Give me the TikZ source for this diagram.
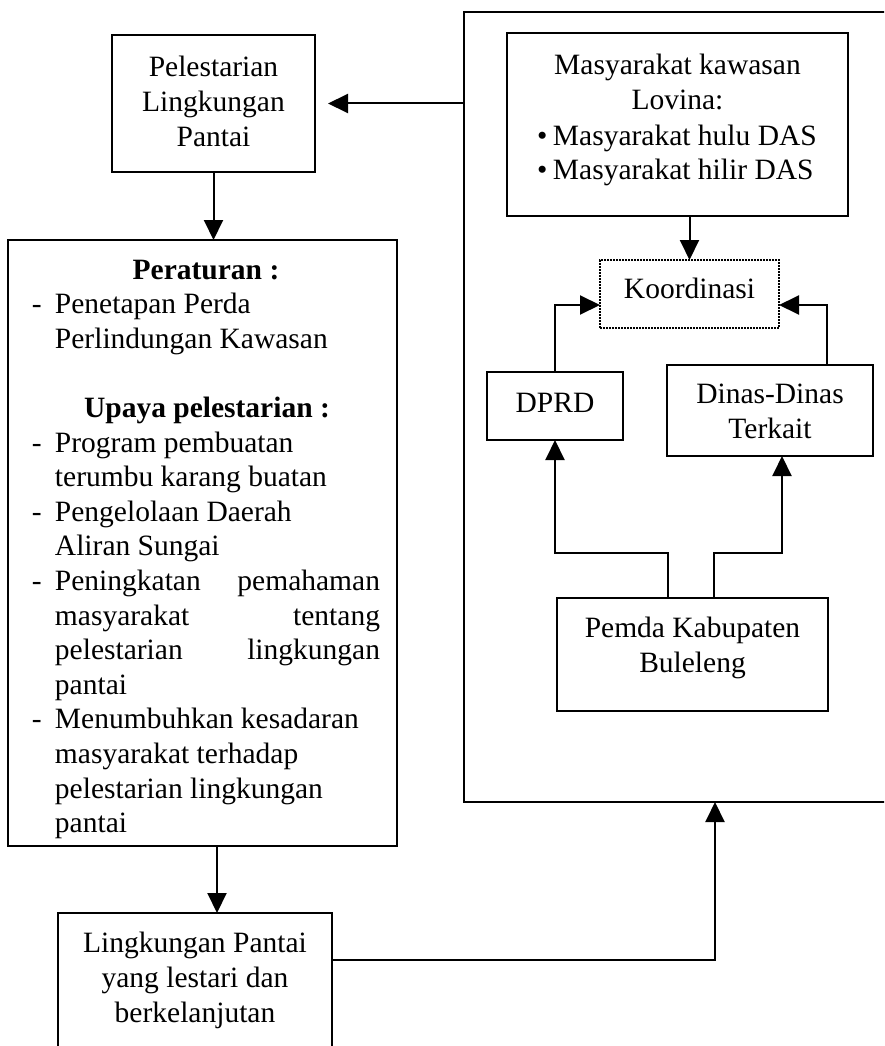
\documentclass[tikz,border=0pt]{standalone}
\usepackage{fontspec}
\setmainfont{Liberation Serif}
\usetikzlibrary{arrows.meta}
\newcommand{\bxc}[4]{\parbox[c][#2][t]{#1}{\centering\vspace*{#3}\strut #4}}
\newcommand{\bxl}[4]{\parbox[c][#2][t]{#1}{\vspace*{#3}\strut #4}}
\newcommand{\dashitem}[1]{\hspace*{24pt}\makebox[23pt][l]{-}#1}
\newcommand{\contitem}[1]{\hspace*{47pt}#1}
\newcommand{\bulitem}[1]{\makebox[\linewidth][l]{\hspace*{30pt}\makebox[16pt][l]{\textbullet}#1}}
\begin{document}
\begin{tikzpicture}[x=1pt,y=-1pt,
  box/.style={draw, line width=2pt, inner sep=0pt, outer sep=0pt, font=\fontsize{29.5}{35}\selectfont},
  dotbox/.style={box, line width=1.8pt, dash pattern=on 1.6pt off 1.4pt},
  arr/.style={line width=2pt, -{Triangle[length=20pt,width=19pt]}},
  ]
\useasboundingbox (0,0) rectangle (884,1046);
\clip (0,0) rectangle (884,1046);

% nodes
\node[box] (big) at (684,407) {\parbox[c][790pt][t]{440pt}{\mbox{}}};
\node[box] (pel) at (213.5,103.5) {\bxc{203pt}{137pt}{17pt}{Pelestarian\\Lingkungan\\Pantai}};
\node[box, font=\fontsize{29.5}{34.6}\selectfont] (rules) at (202.5,543) {\bxl{389pt}{606pt}{14.8pt}{%
\makebox[\linewidth]{\hspace{7pt}\textbf{Peraturan :}}\\
\dashitem{Penetapan Perda}\\
\contitem{Perlindungan Kawasan}\\[34.6pt]
\makebox[\linewidth]{\hspace{9pt}\textbf{Upaya pelestarian :}}\\
\dashitem{Program pembuatan}\\
\contitem{terumbu karang buatan}\\
\dashitem{Pengelolaan Daerah}\\
\contitem{Aliran Sungai}\\
\dashitem{\makebox[325pt][l]{Peningkatan\hfill pemahaman}}\\
\contitem{\makebox[325pt][l]{masyarakat\hfill tentang}}\\
\contitem{\makebox[325pt][l]{pelestarian\hfill lingkungan}}\\
\contitem{pantai}\\
\dashitem{Menumbuhkan kesadaran}\\
\contitem{masyarakat terhadap}\\
\contitem{pelestarian lingkungan}\\
\contitem{pantai}}};
\node[box] (lpb) at (195,988) {\bxc{274pt}{150pt}{14.5pt}{Lingkungan Pantai\\yang lestari dan\\berkelanjutan}};
\node[box] (mas) at (677.5,124.5) {\bxc{341pt}{183pt}{17.5pt}{Masyarakat kawasan\\Lovina:\\
\bulitem{Masyarakat hulu DAS}\\
\bulitem{Masyarakat hilir DAS}}};
\node[dotbox] (koor) at (689.5,294) {\bxc{179pt}{68pt}{13.5pt}{Koordinasi}};
\node[box] (dprd) at (555,406) {\bxc{136pt}{68pt}{15.5pt}{DPRD}};
\node[box] (dinas) at (770,410.5) {\bxc{206pt}{91pt}{13.5pt}{Dinas-Dinas\\Terkait}};
\node[box] (pemda) at (692.5,654.5) {\bxc{271pt}{113pt}{14.5pt}{Pemda Kabupaten\\Buleleng}};

% connectors
\draw[arr, shorten >=13pt] (pel.east -| big.west) -- (pel.east);
\draw[arr] (pel.south) -- (pel.south |- rules.north);
\draw[arr] ([xshift=14.5pt]rules.south) -- ([xshift=14.5pt]rules.south |- lpb.north);
\draw[arr] ([yshift=-47pt]lpb.north east) -| ([xshift=31pt]big.south);
\draw[arr] (mas.south -| koor.north) -- (koor.north);
\draw[arr] (dprd.north) |- ([yshift=-11pt]koor.west);
\draw[arr] ([xshift=57pt]dinas.north) |- ([yshift=-11pt]koor.east);
\draw[arr] ([xshift=-24.5pt]pemda.north) -- ++(0,45pt) -| (dprd.south);
\draw[arr] ([xshift=21.5pt]pemda.north) -- ++(0,45pt) -| ([xshift=12pt]dinas.south);
\end{tikzpicture}
\end{document}
